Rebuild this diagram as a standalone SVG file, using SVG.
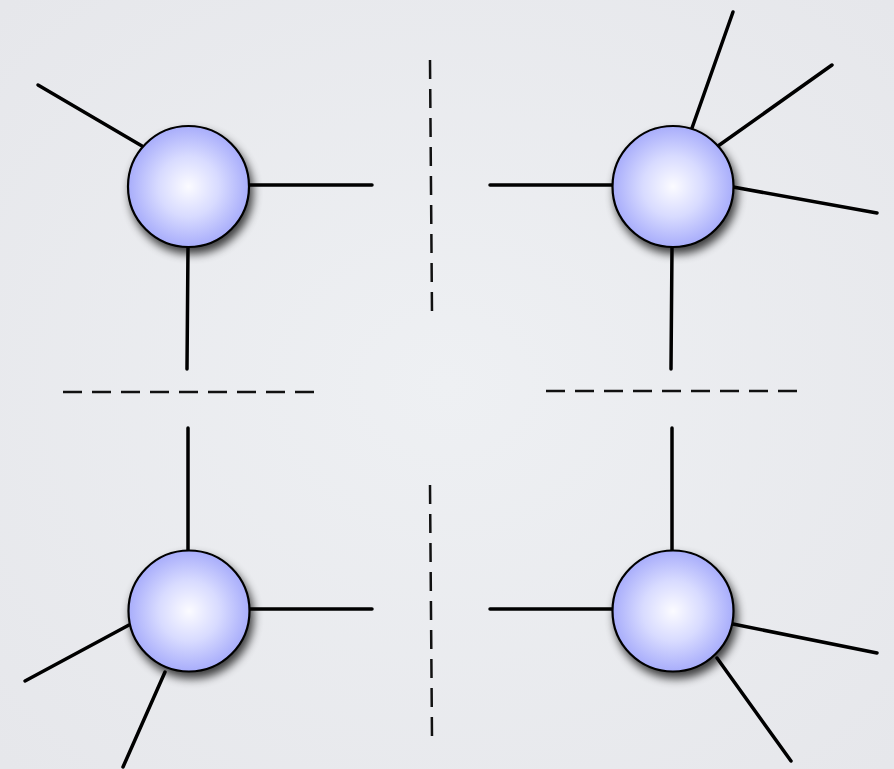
<svg xmlns="http://www.w3.org/2000/svg" width="894" height="769" viewBox="0 0 894 769">
<defs>
<radialGradient id="ball" cx="0.5" cy="0.5" r="0.5">
<stop offset="0" stop-color="#fbfbff"/>
<stop offset="0.5" stop-color="#d8dbff"/>
<stop offset="1" stop-color="#a8adfb"/>
</radialGradient>
<filter id="shadow" x="-30%" y="-30%" width="160%" height="160%">
<feGaussianBlur in="SourceAlpha" stdDeviation="5"/>
<feOffset dx="3" dy="6" result="b"/>
<feComponentTransfer><feFuncA type="linear" slope="0.75"/></feComponentTransfer>
<feMerge><feMergeNode/><feMergeNode in="SourceGraphic"/></feMerge>
</filter>
<radialGradient id="bg" cx="0.5" cy="0.5" r="0.7">
<stop offset="0" stop-color="#eef0f3"/>
<stop offset="1" stop-color="#e6e7eb"/>
</radialGradient>
</defs>
<style>
.edge{stroke:#000;stroke-width:3.5;stroke-linecap:round;fill:none}
.dash{stroke:#111;stroke-width:2.5;stroke-dasharray:19 10;fill:none}
.node circle{fill:url(#ball);stroke:#000;stroke-width:2.2;filter:url(#shadow)}
</style>
<rect width="894" height="769" fill="url(#bg)"/>
<g id="connectors">
<line class="edge" x1="38" y1="85" x2="142" y2="146"/>
<line class="edge" x1="249" y1="185" x2="372" y2="185"/>
<line class="edge" x1="188" y1="247" x2="187" y2="369"/>
<line class="edge" x1="490" y1="185" x2="612" y2="185"/>
<line class="edge" x1="733" y1="12" x2="692" y2="128"/>
<line class="edge" x1="832" y1="65" x2="718" y2="146"/>
<line class="edge" x1="733" y1="187" x2="877" y2="213"/>
<line class="edge" x1="672" y1="247" x2="671" y2="369"/>
<line class="edge" x1="188" y1="428" x2="188" y2="551"/>
<line class="edge" x1="249" y1="609" x2="372" y2="609"/>
<line class="edge" x1="25" y1="681" x2="129" y2="625"/>
<line class="edge" x1="123" y1="767" x2="165" y2="672"/>
<line class="edge" x1="672" y1="428" x2="672" y2="551"/>
<line class="edge" x1="490" y1="609" x2="612" y2="609"/>
<line class="edge" x1="733" y1="624" x2="877" y2="653"/>
<line class="edge" x1="717" y1="658" x2="791" y2="761"/>
<line class="dash" x1="430" y1="60" x2="432" y2="313"/>
<line class="dash" x1="430" y1="485" x2="432" y2="738"/>
<line class="dash" x1="63" y1="392" x2="316" y2="392"/>
<line class="dash" x1="546" y1="391" x2="799" y2="391"/>
</g>
<g id="node-tl" class="node"><circle cx="188.5" cy="186.5" r="60.5"/></g>
<g id="node-tr" class="node"><circle cx="673" cy="186.5" r="60.5"/></g>
<g id="node-bl" class="node"><circle cx="189" cy="611" r="60.5"/></g>
<g id="node-br" class="node"><circle cx="673" cy="611" r="60.5"/></g>
</svg>
